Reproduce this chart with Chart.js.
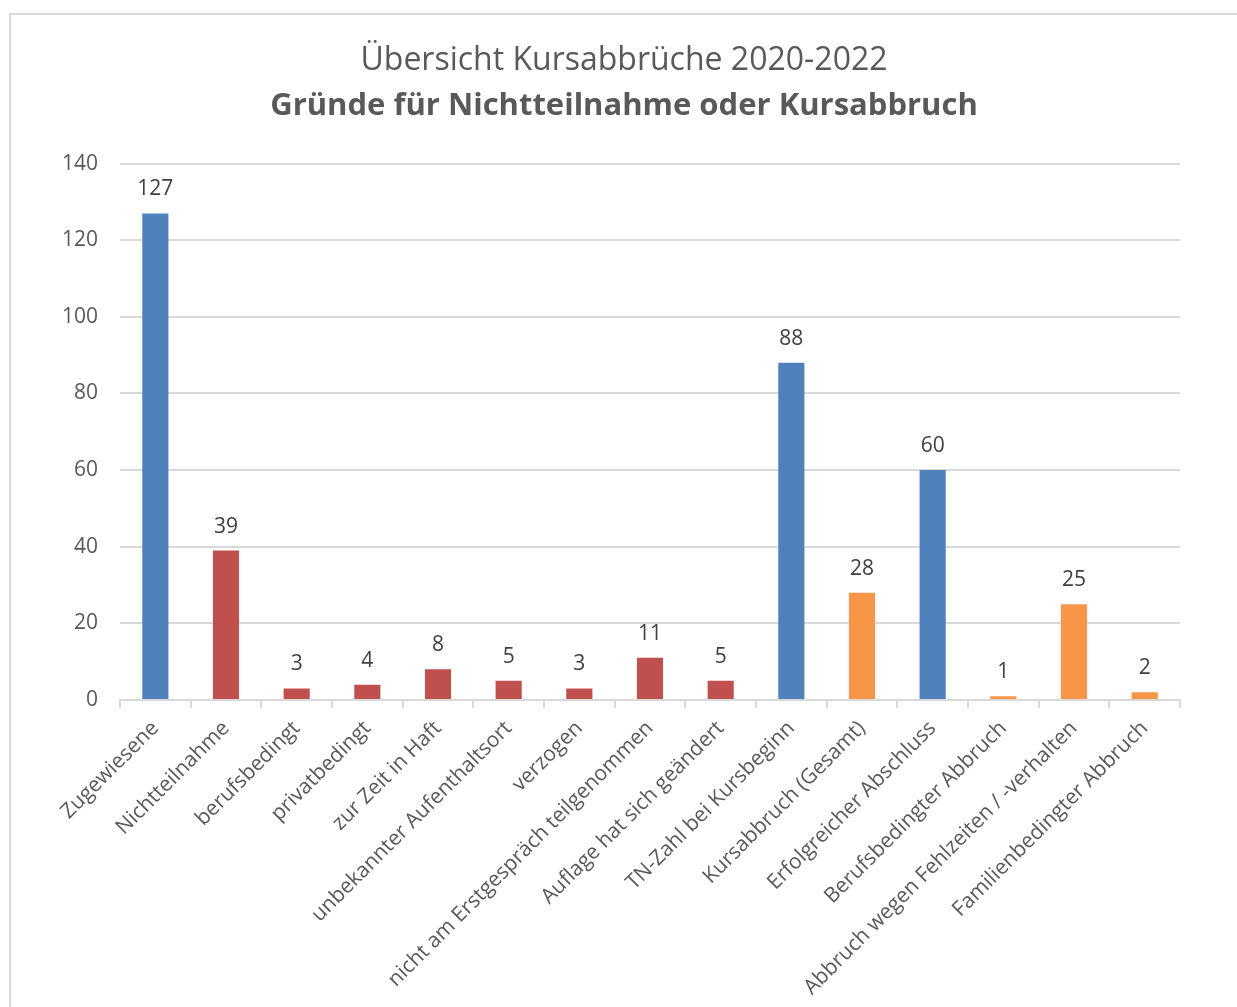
<!DOCTYPE html>
<html lang="de">
<head>
  <meta charset="UTF-8">
  <title>Übersicht Kursabbrüche 2020-2022</title>
  <script src="https://cdn.jsdelivr.net/npm/chart.js"></script>
  <style>
    html, body { margin: 0; padding: 0; background: #fff; overflow: hidden; }
    #frame { position: absolute; left: 9px; top: 13px; width: 1240px; height: 1010px; border: 2px solid #d9d9d9; box-sizing: border-box; }
    #wrap { position: absolute; left: 0; top: 0; width: 1237px; height: 1007px; }
  </style>
</head>
<body>
<div id="frame"></div>
<div id="wrap"><canvas id="chart"></canvas></div>

<script>
const categories = [
  'Zugewiesene', 'Nichtteilnahme', 'berufsbedingt', 'privatbedingt', 'zur Zeit in Haft',
  'unbekannter Aufenthaltsort', 'verzogen', 'nicht am Erstgespräch teilgenommen',
  'Auflage hat sich geändert', 'TN-Zahl bei Kursbeginn', 'Kursabbruch (Gesamt)',
  'Erfolgreicher Abschluss', 'Berufsbedingter Abbruch', 'Abbruch wegen Fehlzeiten / -verhalten',
  'Familienbedingter Abbruch'
];
const values = [127, 39, 3, 4, 8, 5, 3, 11, 5, 88, 28, 60, 1, 25, 2];
const groups = ['blue', 'red', 'red', 'red', 'red', 'red', 'red', 'red', 'red', 'blue', 'orange', 'blue', 'orange', 'orange', 'orange'];
const yTicks = [0, 20, 40, 60, 80, 100, 120, 140];

const palette = { blue: '#4f81bd', red: '#c0504d', orange: '#f79646' };

Chart.defaults.font.family = '"Open Sans", sans-serif';
Chart.defaults.color = '#595959';

// value labels above bars
const valueLabels = {
  id: 'valueLabels',
  afterDatasetsDraw(chart) {
    const ctx = chart.ctx;
    const meta = chart.getDatasetMeta(0);
    ctx.save();
    ctx.font = '21px "Open Sans", sans-serif';
    ctx.fillStyle = '#404040';
    ctx.textAlign = 'center';
    ctx.textBaseline = 'middle';
    meta.data.forEach((bar, i) => {
      ctx.fillText(String(values[i]), bar.x, bar.y - 24);
    });
    ctx.restore();
  }
};

new Chart(document.getElementById('chart'), {
  type: 'bar',
  data: {
    labels: categories,
    datasets: [{
      data: values,
      backgroundColor: groups.map(g => palette[g]),
      barPercentage: 0.37,
      categoryPercentage: 1
    }]
  },
  options: {
    responsive: true,
    maintainAspectRatio: false,
    animation: false,
    layout: { padding: { left: 30, right: 19, top: 0, bottom: 0 } },
    plugins: {
      legend: { display: false },
      tooltip: { enabled: false },
      title: {
        display: true,
        text: 'Übersicht Kursabbrüche 2020-2022',
        color: '#595959',
        font: { size: 32, weight: 'normal' },
        padding: { top: 42, bottom: 3 }
      },
      subtitle: {
        display: true,
        text: 'Gründe für Nichtteilnahme oder Kursabbruch',
        color: '#595959',
        font: { size: 31, weight: 'bold' },
        padding: { top: 4, bottom: 39 }
      }
    },
    scales: {
      x: {
        grid: { drawOnChartArea: false, drawTicks: true, tickLength: 8, color: '#d9d9d9', lineWidth: 2 },
        border: { color: '#d9d9d9', width: 2 },
        ticks: { maxRotation: 45, minRotation: 45, autoSkip: false, padding: 8, color: '#595959', font: { size: 21 } },
        afterFit: axis => { axis.height = 307; }
      },
      y: {
        min: 0,
        max: 140,
        afterBuildTicks: axis => { axis.ticks = yTicks.map(v => ({ value: v })); },
        grid: { color: '#d9d9d9', lineWidth: 2, drawTicks: false },
        border: { display: false },
        ticks: { padding: 22, color: '#595959', font: { size: 21 } },
        afterFit: axis => { axis.width = 90; }
      },
      // empty spacer on the right so the titles centre on the whole frame
      yRight: {
        position: 'right',
        grid: { display: false },
        border: { display: false },
        ticks: { display: false },
        afterFit: axis => { axis.width = 38; }
      }
    }
  },
  plugins: [valueLabels]
});
</script>
</body>
</html>
